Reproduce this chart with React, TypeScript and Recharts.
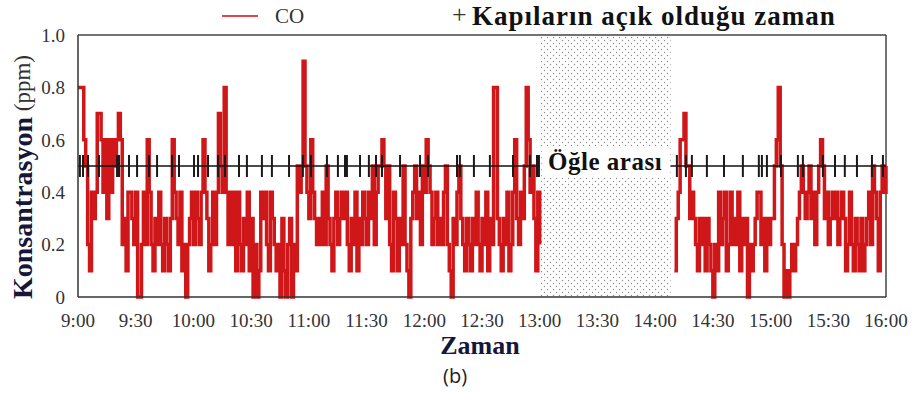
import React from "react";
import {
  LineChart,
  Line,
  Scatter,
  XAxis,
  YAxis,
  ReferenceArea,
  ReferenceLine,
} from "recharts";

// CO concentration (ppm), one reading per minute
const morningStart = 0; // 9:00
const coMorning = [
  0.8, 0.8, 0.8, 0.6, 0.5, 0.2, 0.1, 0.4, 0.3, 0.4,
  0.7, 0.7, 0.6, 0.4, 0.6, 0.3, 0.6, 0.4, 0.6, 0.5,
  0.6, 0.7, 0.6, 0.2, 0.3, 0.1, 0.4, 0.4, 0.3, 0.2,
  0.4, 0.0, 0.0, 0.2, 0.4, 0.2, 0.6, 0.4, 0.2, 0.1,
  0.3, 0.2, 0.4, 0.2, 0.1, 0.3, 0.2, 0.1, 0.3, 0.6,
  0.4, 0.3, 0.2, 0.4, 0.1, 0.2, 0.0, 0.2, 0.3, 0.4,
  0.2, 0.4, 0.3, 0.2, 0.4, 0.6, 0.4, 0.3, 0.1, 0.2,
  0.4, 0.2, 0.4, 0.7, 0.5, 0.4, 0.8, 0.4, 0.2, 0.4,
  0.2, 0.4, 0.1, 0.4, 0.2, 0.1, 0.3, 0.2, 0.4, 0.1,
  0.3, 0.0, 0.2, 0.0, 0.1, 0.4, 0.3, 0.4, 0.2, 0.1,
  0.4, 0.3, 0.2, 0.1, 0.2, 0.0, 0.3, 0.1, 0.0, 0.2,
  0.3, 0.0, 0.2, 0.1, 0.5, 0.4, 0.5, 0.9, 0.5, 0.4,
  0.3, 0.6, 0.4, 0.3, 0.2, 0.3, 0.2, 0.4, 0.2, 0.5,
  0.3, 0.2, 0.1, 0.3, 0.4, 0.2, 0.3, 0.4, 0.3, 0.4,
  0.2, 0.1, 0.3, 0.2, 0.4, 0.1, 0.3, 0.2, 0.4, 0.3,
  0.2, 0.4, 0.3, 0.5, 0.2, 0.4, 0.5, 0.5, 0.6, 0.5,
  0.3, 0.5, 0.2, 0.1, 0.4, 0.3, 0.1, 0.3, 0.2, 0.5,
  0.2, 0.1, 0.0, 0.3, 0.4, 0.5, 0.3, 0.4, 0.2, 0.5,
  0.4, 0.6, 0.5, 0.4, 0.2, 0.3, 0.4, 0.2, 0.3, 0.2,
  0.4, 0.5, 0.2, 0.1, 0.0, 0.3, 0.2, 0.4, 0.5, 0.3,
  0.2, 0.1, 0.3, 0.2, 0.1, 0.3, 0.2, 0.4, 0.2, 0.1,
  0.3, 0.2, 0.4, 0.1, 0.3, 0.2, 0.8, 0.8, 0.3, 0.2,
  0.1, 0.3, 0.2, 0.4, 0.1, 0.2, 0.4, 0.6, 0.3, 0.2,
  0.4, 0.3, 0.5, 0.8, 0.6, 0.4, 0.5, 0.3, 0.1, 0.4, 0.2,
];

const afternoonStart = 310; // 14:10
const coAfternoon = [
  0.1, 0.3, 0.4, 0.6, 0.6, 0.7, 0.5, 0.5, 0.3, 0.4,
  0.3, 0.2, 0.1, 0.3, 0.2, 0.3, 0.1, 0.3, 0.2, 0.1,
  0.0, 0.2, 0.1, 0.4, 0.2, 0.3, 0.4, 0.1, 0.2, 0.4,
  0.2, 0.3, 0.2, 0.4, 0.1, 0.3, 0.2, 0.3, 0.0, 0.2,
  0.1, 0.2, 0.3, 0.4, 0.4, 0.2, 0.3, 0.1, 0.3, 0.2,
  0.3, 0.3, 0.5, 0.6, 0.8, 0.5, 0.2, 0.0, 0.1, 0.0,
  0.1, 0.2, 0.1, 0.2, 0.3, 0.4, 0.5, 0.4, 0.3, 0.4,
  0.5, 0.3, 0.4, 0.2, 0.4, 0.5, 0.6, 0.5, 0.3, 0.4,
  0.2, 0.3, 0.4, 0.3, 0.4, 0.2, 0.3, 0.4, 0.3, 0.1,
  0.2, 0.4, 0.2, 0.1, 0.3, 0.2, 0.1, 0.3, 0.1, 0.2,
  0.3, 0.4, 0.2, 0.5, 0.4, 0.3, 0.1, 0.4, 0.5, 0.4, 0.5,
];

// minutes after 9:00 when the doors were open
const doorOpenTimes = [
  1, 2.6, 5.2, 10.9, 20.3, 21.3, 26.5, 30.7, 36.9, 41.1, 48.9, 52.5, 60.3,
  62.4, 67.6, 72.8, 76.4, 83.7, 87.8, 95.6, 100.8, 109.7, 116.9, 121.1, 129.4,
  135.1, 138.8, 139.8, 146.6, 151.2, 154.9, 158, 167.4, 177.8, 181.9, 197,
  198.5, 205.8, 214.1, 226.1, 234.9, 238.6, 239.6, 311.3, 316, 319.1, 326.9,
  335.8, 345.6, 353.9, 355.5, 358.1, 365.4, 374.2, 376.8, 387.2, 393.5, 398.6,
  404.9, 412.7, 418.4,
];
const doorLevel = 0.5;

const lunchStart = 240;
const lunchEnd = 308;

const xTicks = [0, 30, 60, 90, 120, 150, 180, 210, 240, 270, 300, 330, 360, 390, 420];
const xTickLabels = [
  "9:00", "9:30", "10:00", "10:30", "11:00", "11:30", "12:00", "12:30",
  "13:00", "13:30", "14:00", "14:30", "15:00", "15:30", "16:00",
];
const yTicks = [0, 0.2, 0.4, 0.6, 0.8, 1.0];
const yTickLabels = ["0", "0.2", "0.4", "0.6", "0.8", "1.0"];

const morningRows = coMorning.map((v, i) => ({ t: morningStart + i, v }));
const afternoonRows = coAfternoon.map((v, i) => ({ t: afternoonStart + i, v }));
const doorRows = doorOpenTimes.map((t) => ({ t, v: doorLevel }));

const SERIF = "Liberation Serif, Tinos, Times New Roman, DejaVu Serif, Noto Serif, serif";
const RED = "#cf1719";
const NAVY = "#16163a";

const DoorMark = (props: any) => {
  const { cx, cy } = props;
  if (cx == null || cy == null) return null;
  return <line x1={cx} x2={cx} y1={cy - 11} y2={cy + 11} stroke="#1a1a1a" strokeWidth={2} />;
};

const YLabel = () => (
  <text
    x={22}
    y={177}
    transform="rotate(-90 22 177)"
    textAnchor="middle"
    dominantBaseline="central"
    fontFamily={SERIF}
    fill={NAVY}
  >
    <tspan fontWeight="bold" fontSize={28}>Konsantrasyon</tspan>
    <tspan fontSize={23} fill="#333"> (ppm)</tspan>
  </text>
);

const XLabel = () => (
  <text x={480} y={354} textAnchor="middle" fontFamily={SERIF} fontWeight="bold" fontSize={26} fill={NAVY}>
    Zaman
  </text>
);

export default function App() {
  return (
    <div style={{ position: "absolute", left: 0, top: 0, width: 914, height: 394, background: "#fff" }}>
      <svg width={0} height={0} style={{ position: "absolute" }}>
        <defs>
          <pattern id="lunchDots" width={6} height={6} patternUnits="userSpaceOnUse">
            <circle cx={1.5} cy={1.5} r={0.7} fill="#8a8a8a" />
            <circle cx={4.5} cy={4.5} r={0.7} fill="#8a8a8a" />
          </pattern>
        </defs>
      </svg>

      <LineChart width={914} height={394} margin={{ top: 35, right: 28, left: 0, bottom: 67 }}>
        <XAxis
          dataKey="t"
          type="number"
          domain={[0, 420]}
          ticks={xTicks}
          tickFormatter={(t: number) => xTickLabels[xTicks.indexOf(t)]}
          allowDuplicatedCategory={false}
          height={30}
          tickLine={false}
          tickMargin={11}
          stroke="#333"
          strokeWidth={1.5}
          tick={{ fontFamily: SERIF, fontSize: 19, fill: "#333" }}
          label={<XLabel />}
        />
        <YAxis
          type="number"
          domain={[0, 1]}
          ticks={yTicks}
          tickFormatter={(v: number) => yTickLabels[yTicks.indexOf(v)]}
          width={78}
          tickLine={false}
          tickMargin={7}
          stroke="#333"
          strokeWidth={1.5}
          tick={{ fontFamily: SERIF, fontSize: 19, fill: "#333" }}
          label={<YLabel />}
        />

        <ReferenceArea x1={lunchStart} x2={lunchEnd} y1={0} y2={1} fill="url(#lunchDots)" fillOpacity={1} stroke="none" />
        <ReferenceLine y={1} stroke="#444" strokeWidth={1.5} />
        <ReferenceLine x={420} stroke="#444" strokeWidth={1.5} />

        <Line data={morningRows} dataKey="v" type="stepAfter" stroke={RED} strokeWidth={3.5} dot={false} isAnimationActive={false} />
        <Line data={afternoonRows} dataKey="v" type="stepAfter" stroke={RED} strokeWidth={3.5} dot={false} isAnimationActive={false} />

        <ReferenceLine segment={[{ x: 0, y: doorLevel }, { x: lunchStart, y: doorLevel }]} stroke="#111" strokeWidth={1.5} />
        <ReferenceLine segment={[{ x: lunchEnd, y: doorLevel }, { x: 420, y: doorLevel }]} stroke="#111" strokeWidth={1.5} />
        <Scatter data={doorRows} dataKey="v" shape={<DoorMark />} isAnimationActive={false} />

        <ReferenceArea
          x1={lunchStart + 1}
          x2={lunchEnd - 1}
          y1={0.46}
          y2={0.575}
          fill="#fff"
          fillOpacity={1}
          stroke="none"
          label={{ value: "Öğle arası", position: "center", fontFamily: SERIF, fontWeight: "bold", fontSize: 25, letterSpacing: 0.5, fill: "#111" }}
        />
      </LineChart>

      {/* legend */}
      <div style={{ position: "absolute", left: 222, top: 15, width: 36, height: 2, background: "#e04848" }} />
      <div style={{ position: "absolute", left: 275, top: 6, fontFamily: SERIF, fontSize: 21, lineHeight: 1, color: "#333" }}>CO</div>
      <div style={{ position: "absolute", left: 452, top: 2, fontFamily: SERIF, fontSize: 26, lineHeight: 1, color: "#333" }}>+</div>
      <div style={{ position: "absolute", left: 472, top: 3, fontFamily: SERIF, fontSize: 27, fontWeight: "bold", letterSpacing: 1, lineHeight: 1, color: "#111", whiteSpace: "nowrap" }}>
        Kapıların açık olduğu zaman
      </div>
      <div style={{ position: "absolute", left: 443, top: 366, fontFamily: "Open Sans, DejaVu Sans, sans-serif", fontSize: 20, lineHeight: 1, color: "#222" }}>
        (b)
      </div>
    </div>
  );
}
